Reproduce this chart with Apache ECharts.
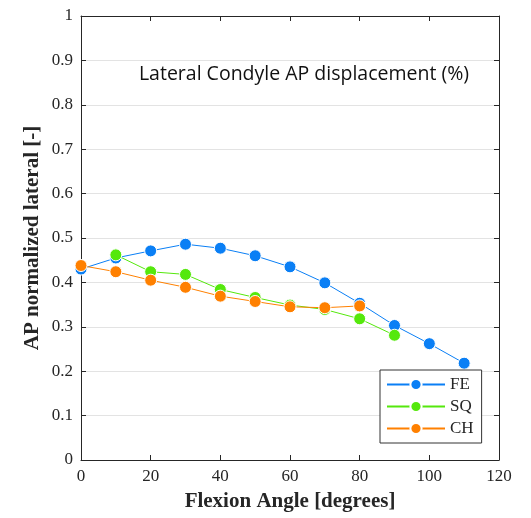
<!DOCTYPE html>
<html><head><meta charset="utf-8">
<script src="https://cdn.jsdelivr.net/npm/echarts@6/dist/echarts.min.js"></script>
<style>html,body{margin:0;padding:0;background:#fff}#c{width:531px;height:518px}</style>
</head><body><div id="c"></div>
<script>
const angles = [0,10,20,30,40,50,60,70,80,90,100,110];
const FE = [0.430,0.455,0.471,0.486,0.477,0.460,0.435,0.399,0.353,0.303,0.262,0.218];
const SQ = [null,0.462,0.424,0.418,0.384,0.366,0.349,0.339,0.318,0.281,null,null];
const CH = [0.438,0.424,0.405,0.389,0.369,0.357,0.345,0.343,0.347,null,null,null];
const seriesNames = ['FE','SQ','CH'];
const colors = ['#0a7ff5','#55e80c','#ff8000'];
const xTicks = [0,20,40,60,80,100,120];
const yTicks = [0,0.1,0.2,0.3,0.4,0.5,0.6,0.7,0.8,0.9,1];

const serif = 'Liberation Serif';
const txt = '#262626';
const chart = echarts.init(document.getElementById('c'), null, {renderer:'canvas'});
function mk(name, vals, i){
  return {name:name, type:'line', data:angles.map((a,k)=>vals[k]==null?null:[a,vals[k]]).filter(d=>d),
    symbol:'circle', symbolSize:12, showSymbol:true,
    itemStyle:{color:colors[i], borderColor:'#fff', borderWidth:1},
    lineStyle:{color:colors[i], width:1}, z:2+i};
}
const axLine = {show:true, onZero:false, lineStyle:{color:'#262626'}};
const axTick = {show:true, inside:true, length:5, lineStyle:{color:'#262626'}};
chart.setOption({
  animation:false,
  grid:{left:81, right:32, top:16, bottom:58},
  title:{text:'Lateral Condyle AP displacement (%)', left:299, top:59, textAlign:'center',
    textStyle:{fontFamily:'Open Sans', fontWeight:'normal', fontSize:19.5, color:'#111'}},
  legend:{data:seriesNames, orient:'vertical', left:380, top:370, width:106,
    itemWidth:58, itemHeight:14, itemGap:5, padding:[6,8,6,6],
    borderColor:'#333', borderWidth:1, backgroundColor:'#fff',
    textStyle:{fontFamily:serif, fontSize:17, color:txt}},
  xAxis:[{type:'value', min:0, max:120, interval:20, position:'bottom',
    name:'Flexion Angle [degrees]', nameLocation:'middle', nameGap:31,
    nameTextStyle:{fontFamily:serif, fontWeight:'bold', fontSize:21, color:txt},
    axisLine:axLine, axisTick:axTick,
    axisLabel:{fontFamily:serif, fontSize:17, color:txt, margin:8, formatter:v=>xTicks.includes(v)?String(v):''},
    splitLine:{show:false}},
   {type:'value', min:0, max:120, interval:20, position:'top',
    axisLine:axLine, axisTick:axTick,
    axisLabel:{show:false}, splitLine:{show:false}}],
  yAxis:[{type:'value', min:0, max:1, interval:0.1, position:'left',
    name:'AP normalized lateral [-]', nameLocation:'middle', nameGap:38, nameRotate:90, nameMoveOverlap:false,
    nameTextStyle:{fontFamily:serif, fontWeight:'bold', fontSize:21, color:txt},
    axisLine:axLine, axisTick:axTick,
    axisLabel:{fontFamily:serif, fontSize:17, color:txt, margin:8, formatter:v=>{const t=yTicks.find(y=>Math.abs(y-v)<1e-6); return t===undefined?'':String(t);}},
    splitLine:{show:true, lineStyle:{color:'#e3e3e3', width:1}}},
   {type:'value', min:0, max:1, interval:0.1, position:'right',
    axisLine:axLine, axisTick:axTick,
    axisLabel:{show:false}, splitLine:{show:false}}],
  series:[mk('FE',FE,0), mk('SQ',SQ,1), mk('CH',CH,2)]
});
</script></body></html>
